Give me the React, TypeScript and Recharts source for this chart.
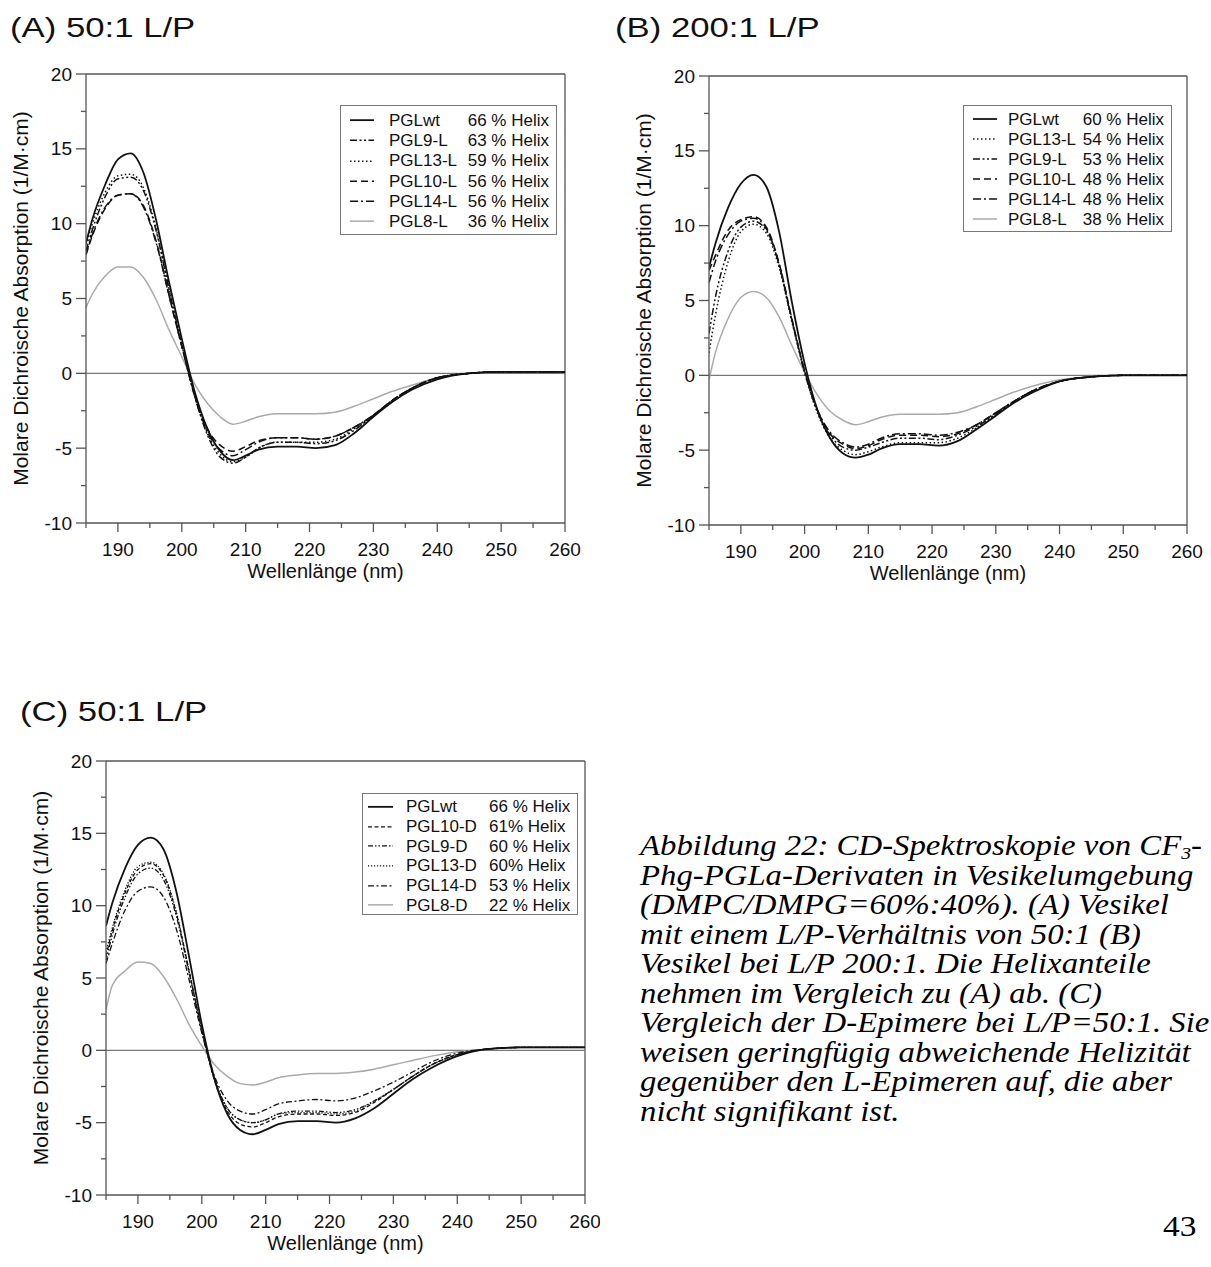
import React from "react";
import { LineChart, Line, XAxis, YAxis, ReferenceLine, Legend, Label } from "recharts";

// wavelength grid (nm) shared by all spectra
const WAVELENGTHS = [185, 186, 188, 190, 192, 194, 196, 198, 200, 202, 204, 206, 208, 210, 212, 215, 218, 221, 224, 227, 230, 233, 236, 240, 245, 250, 255, 260];

const X_TICKS = [185, 190, 195, 200, 205, 210, 215, 220, 225, 230, 235, 240, 245, 250, 255, 260];
const Y_TICKS = [-10, -7.5, -5, -2.5, 0, 2.5, 5, 7.5, 10, 12.5, 15, 17.5, 20];

// (A) 50:1 L/P
const A_WT = [8.7, 10.3, 12.6, 14.3, 14.7, 13.4, 10.2, 6.1, 2.3, -1.2, -3.7, -5.2, -5.8, -5.5, -5.1, -4.9, -4.9, -5.0, -4.8, -4.0, -2.9, -1.9, -1.1, -0.4, 0.0, 0.1, 0.1, 0.1];
const A_9 = [8.2, 9.6, 11.8, 13.0, 13.1, 12.2, 9.5, 5.6, 1.9, -1.5, -4.1, -5.6, -6.0, -5.6, -5.0, -4.6, -4.6, -4.7, -4.5, -3.8, -2.8, -1.8, -1.0, -0.3, 0.0, 0.1, 0.1, 0.1];
const A_13 = [8.6, 10.0, 12.1, 13.2, 13.3, 12.4, 9.6, 5.6, 1.9, -1.5, -4.0, -5.4, -5.9, -5.6, -5.0, -4.6, -4.6, -4.6, -4.4, -3.7, -2.8, -1.8, -1.0, -0.3, 0.0, 0.1, 0.1, 0.1];
const A_10 = [7.9, 9.2, 11.0, 11.9, 12.0, 11.2, 8.8, 5.2, 1.8, -1.4, -3.7, -4.8, -5.2, -4.9, -4.5, -4.3, -4.3, -4.4, -4.2, -3.6, -2.8, -1.8, -1.0, -0.3, 0.0, 0.1, 0.1, 0.1];
const A_14 = [8.0, 9.3, 11.1, 11.9, 12.0, 11.1, 8.7, 5.2, 1.8, -1.5, -3.9, -5.1, -5.5, -5.1, -4.6, -4.3, -4.3, -4.4, -4.2, -3.6, -2.8, -1.8, -1.0, -0.3, 0.0, 0.1, 0.1, 0.1];
const A_8 = [4.4, 5.3, 6.5, 7.1, 7.1, 6.4, 4.9, 2.9, 1.1, -0.7, -2.0, -2.9, -3.4, -3.2, -2.9, -2.7, -2.7, -2.7, -2.6, -2.2, -1.7, -1.2, -0.8, -0.3, 0.0, 0.1, 0.1, 0.1];

// (B) 200:1 L/P
const B_WT = [7.2, 8.8, 11.2, 12.8, 13.4, 12.6, 9.6, 4.9, 0.8, -2.3, -4.2, -5.2, -5.5, -5.3, -4.9, -4.6, -4.6, -4.7, -4.4, -3.6, -2.7, -1.8, -1.1, -0.4, -0.1, 0.0, 0.0, 0.0];
const B_13 = [1.5, 4.0, 7.6, 9.6, 10.1, 9.5, 7.2, 3.6, 0.2, -2.5, -4.2, -5.0, -5.3, -5.1, -4.8, -4.5, -4.5, -4.5, -4.2, -3.5, -2.6, -1.7, -1.0, -0.4, -0.1, 0.0, 0.0, 0.0];
const B_9 = [2.8, 5.2, 8.3, 9.9, 10.3, 9.7, 7.4, 3.7, 0.2, -2.4, -4.0, -4.8, -5.0, -4.8, -4.5, -4.2, -4.2, -4.3, -4.0, -3.4, -2.6, -1.7, -1.0, -0.4, -0.1, 0.0, 0.0, 0.0];
const B_10 = [7.0, 8.0, 9.7, 10.4, 10.6, 9.9, 7.5, 3.8, 0.3, -2.3, -3.9, -4.6, -4.9, -4.7, -4.3, -4.0, -4.0, -4.1, -3.9, -3.3, -2.5, -1.7, -1.0, -0.4, -0.1, 0.0, 0.0, 0.0];
const B_14 = [6.2, 7.6, 9.4, 10.3, 10.5, 9.8, 7.4, 3.7, 0.3, -2.3, -3.8, -4.5, -4.8, -4.6, -4.2, -3.9, -3.9, -4.0, -3.8, -3.3, -2.5, -1.7, -1.0, -0.4, -0.1, 0.0, 0.0, 0.0];
const B_8 = [-0.3, 1.5, 3.8, 5.2, 5.6, 5.2, 3.9, 2.0, 0.2, -1.3, -2.4, -3.0, -3.3, -3.1, -2.8, -2.6, -2.6, -2.6, -2.5, -2.1, -1.6, -1.1, -0.7, -0.3, -0.1, 0.0, 0.0, 0.0];

// (C) 50:1 L/P, D-epimers
const C_WT = [8.6, 10.2, 12.6, 14.2, 14.7, 13.9, 11.0, 6.5, 1.8, -2.0, -4.4, -5.5, -5.8, -5.5, -5.1, -4.9, -4.9, -5.0, -4.7, -4.0, -3.0, -2.0, -1.2, -0.4, 0.1, 0.2, 0.2, 0.2];
const C_10 = [6.5, 8.3, 10.9, 12.5, 12.9, 12.1, 9.5, 5.5, 1.4, -2.1, -4.2, -5.1, -5.3, -5.0, -4.6, -4.4, -4.4, -4.5, -4.3, -3.6, -2.7, -1.8, -1.0, -0.3, 0.1, 0.2, 0.2, 0.2];
const C_9 = [6.2, 8.0, 10.6, 12.2, 12.6, 11.8, 9.3, 5.4, 1.4, -2.0, -4.0, -4.8, -5.0, -4.8, -4.4, -4.2, -4.2, -4.3, -4.1, -3.5, -2.7, -1.8, -1.0, -0.3, 0.1, 0.2, 0.2, 0.2];
const C_13 = [6.8, 8.5, 11.1, 12.7, 13.0, 12.2, 9.6, 5.5, 1.4, -2.0, -4.0, -4.8, -5.0, -4.8, -4.4, -4.3, -4.3, -4.4, -4.2, -3.5, -2.7, -1.8, -1.0, -0.3, 0.1, 0.2, 0.2, 0.2];
const C_14 = [6.0, 7.4, 9.7, 11.0, 11.3, 10.6, 8.4, 4.9, 1.2, -1.8, -3.5, -4.2, -4.4, -4.1, -3.7, -3.5, -3.4, -3.5, -3.3, -2.8, -2.2, -1.5, -0.8, -0.2, 0.1, 0.2, 0.2, 0.2];
const C_8 = [2.8, 4.5, 5.5, 6.1, 6.0, 5.1, 3.6, 1.8, 0.3, -1.0, -1.8, -2.3, -2.4, -2.2, -1.9, -1.7, -1.6, -1.6, -1.5, -1.3, -1.0, -0.7, -0.4, -0.1, 0.1, 0.2, 0.2, 0.2];

const CAPTION_LINES = [
  "Phg-PGLa-Derivaten in Vesikelumgebung",
  "(DMPC/DMPG=60%:40%). (A) Vesikel",
  "mit einem L/P-Verhältnis von 50:1 (B)",
  "Vesikel bei L/P 200:1. Die Helixanteile",
  "nehmen im Vergleich zu (A) ab. (C)",
  "Vergleich der D-Epimere bei L/P=50:1. Sie",
  "weisen geringfügig abweichende Helizität",
  "gegenüber den L-Epimeren auf, die aber",
  "nicht signifikant ist.",
];

const FONT = '"Liberation Sans", Arial, Helvetica, sans-serif';
const SERIF = '"Liberation Serif", "Times New Roman", serif';
const AXIS = "#555";
const INK = "#111";
const GREY = "#aaa";

type Series = { key: string; name: string; helix: string; values: number[]; dash?: string; color: string; width: number };

const SERIES_A: Series[] = [
  { key: "wt", name: "PGLwt", helix: "66 % Helix", values: A_WT, color: INK, width: 1.8 },
  { key: "p9", name: "PGL9-L", helix: "63 % Helix", values: A_9, dash: "7 2.5 2 2.5 2 2.5", color: INK, width: 1.5 },
  { key: "p13", name: "PGL13-L", helix: "59 % Helix", values: A_13, dash: "1.5 2.5", color: INK, width: 1.5 },
  { key: "p10", name: "PGL10-L", helix: "56 % Helix", values: A_10, dash: "7 4", color: INK, width: 1.5 },
  { key: "p14", name: "PGL14-L", helix: "56 % Helix", values: A_14, dash: "8 3 2 3", color: INK, width: 1.5 },
  { key: "p8", name: "PGL8-L", helix: "36 % Helix", values: A_8, color: GREY, width: 1.5 },
];

const SERIES_B: Series[] = [
  { key: "wt", name: "PGLwt", helix: "60 % Helix", values: B_WT, color: INK, width: 1.8 },
  { key: "p13", name: "PGL13-L", helix: "54 % Helix", values: B_13, dash: "1.5 2.5", color: INK, width: 1.5 },
  { key: "p9", name: "PGL9-L", helix: "53 % Helix", values: B_9, dash: "7 2.5 2 2.5 2 2.5", color: INK, width: 1.5 },
  { key: "p10", name: "PGL10-L", helix: "48 % Helix", values: B_10, dash: "7 4", color: INK, width: 1.5 },
  { key: "p14", name: "PGL14-L", helix: "48 % Helix", values: B_14, dash: "8 3 2 3", color: INK, width: 1.5 },
  { key: "p8", name: "PGL8-L", helix: "38 % Helix", values: B_8, color: GREY, width: 1.5 },
];

const SERIES_C: Series[] = [
  { key: "wt", name: "PGLwt", helix: "66 % Helix", values: C_WT, color: INK, width: 1.8 },
  { key: "p10", name: "PGL10-D", helix: "61% Helix", values: C_10, dash: "4 2.5", color: INK, width: 1.3 },
  { key: "p9", name: "PGL9-D", helix: "60 % Helix", values: C_9, dash: "5 2 1.5 2 1.5 2", color: INK, width: 1.3 },
  { key: "p13", name: "PGL13-D", helix: "60% Helix", values: C_13, dash: "1.2 1.8", color: INK, width: 1.3 },
  { key: "p14", name: "PGL14-D", helix: "53 % Helix", values: C_14, dash: "6 2.5 2 2.5", color: INK, width: 1.3 },
  { key: "p8", name: "PGL8-D", helix: "22 % Helix", values: C_8, color: GREY, width: 1.5 },
];

const XTick = (props: any) => {
  const { x, y, payload } = props;
  const major = payload.value % 10 === 0;
  return (
    <g>
      <line x1={x} x2={x} y1={y} y2={y + (major ? 9 : 5)} stroke={AXIS} strokeWidth={1.3} />
      {major && (
        <text x={x} y={y + 26} textAnchor="middle" dominantBaseline="central" fontSize={19} fontFamily={FONT} fill={INK}>
          {payload.value}
        </text>
      )}
    </g>
  );
};

const YTick = (props: any) => {
  const { x, y, payload } = props;
  const major = payload.value % 5 === 0;
  return (
    <g>
      <line x1={x} x2={x - (major ? 10 : 5)} y1={y} y2={y} stroke={AXIS} strokeWidth={1.3} />
      {major && (
        <text x={x - 14} y={y} textAnchor="end" dominantBaseline="central" fontSize={19} fontFamily={FONT} fill={INK}>
          {payload.value}
        </text>
      )}
    </g>
  );
};

type LegendCfg = { x: number; y: number; w: number; h: number; rowH: number; padTop: number; lineX: number; lineW: number; nameX: number; helixX?: number };

const LegendBox = ({ series, cfg }: { series: Series[]; cfg: LegendCfg }) => (
  <div
    style={{
      width: cfg.w,
      height: cfg.h,
      boxSizing: "border-box",
      border: "1.5px solid #777",
      background: "#fff",
      paddingTop: cfg.padTop,
      fontFamily: FONT,
      fontSize: 17,
      color: INK,
      lineHeight: 1,
    }}
  >
    {series.map((s) => (
      <div key={s.key} style={{ position: "relative", height: cfg.rowH }}>
        <svg width={cfg.lineW} height={cfg.rowH} style={{ position: "absolute", left: cfg.lineX, top: 0 }}>
          <line x1={0} x2={cfg.lineW} y1={cfg.rowH / 2} y2={cfg.rowH / 2} stroke={s.color} strokeWidth={s.width} strokeDasharray={s.dash} />
        </svg>
        <span style={{ position: "absolute", left: cfg.nameX, top: (cfg.rowH - 17) / 2, whiteSpace: "nowrap" }}>{s.name}</span>
        <span
          style={
            cfg.helixX !== undefined
              ? { position: "absolute", left: cfg.helixX, top: (cfg.rowH - 17) / 2, whiteSpace: "nowrap" }
              : { position: "absolute", right: 7, top: (cfg.rowH - 17) / 2, whiteSpace: "nowrap" }
          }
        >
          {s.helix}
        </span>
      </div>
    ))}
  </div>
);

type PanelProps = {
  series: Series[];
  left: number;
  top: number;
  width: number;
  height: number;
  plot: { x0: number; x1: number; y0: number; y1: number };
  legend: LegendCfg;
};

const Y_AXIS_W = 70;
const X_AXIS_H = 50;

function SpectrumPanel({ series, left, top, width, height, plot, legend }: PanelProps) {
  const data = WAVELENGTHS.map((wl, i) => {
    const row: Record<string, number> = { wl };
    series.forEach((s) => {
      row[s.key] = s.values[i];
    });
    return row;
  });
  const margin = {
    left: plot.x0 - left - Y_AXIS_W,
    top: plot.y0 - top,
    right: left + width - plot.x1,
    bottom: top + height - plot.y1 - X_AXIS_H,
  };
  const midY = (plot.y0 + plot.y1) / 2 - top;
  const midX = (plot.x0 + plot.x1) / 2 - left;
  const titleX = plot.x0 - left - 66;

  return (
    <div style={{ position: "absolute", left, top }}>
      <LineChart width={width} height={height} data={data} margin={margin} style={{ overflow: "visible" }}>
        <XAxis
          dataKey="wl"
          type="number"
          domain={[185, 260]}
          ticks={X_TICKS}
          interval={0}
          allowDataOverflow
          stroke={AXIS}
          strokeWidth={1.3}
          tickLine={false}
          tickSize={0}
          tickMargin={0}
          height={X_AXIS_H}
          tick={<XTick />}
        >
          <Label
            content={() => (
              <text x={midX} y={plot.y1 - top + 48} textAnchor="middle" dominantBaseline="central" fontSize={20} fontFamily={FONT} fill={INK}>
                Wellenlänge (nm)
              </text>
            )}
          />
        </XAxis>
        <YAxis
          type="number"
          domain={[-10, 20]}
          ticks={Y_TICKS}
          interval={0}
          allowDataOverflow
          stroke={AXIS}
          strokeWidth={1.3}
          tickLine={false}
          tickSize={0}
          tickMargin={0}
          width={Y_AXIS_W}
          tick={<YTick />}
        >
          <Label
            content={() => (
              <text
                x={titleX}
                y={midY}
                transform={`rotate(-90 ${titleX} ${midY})`}
                textAnchor="middle"
                dominantBaseline="central"
                fontSize={21}
                fontFamily={FONT}
                fill={INK}
              >
                Molare Dichroische Absorption (1/M·cm)
              </text>
            )}
          />
        </YAxis>
        <ReferenceLine y={20} stroke={AXIS} strokeWidth={1.3} />
        <ReferenceLine x={260} stroke={AXIS} strokeWidth={1.3} />
        <ReferenceLine y={0} stroke="#777" strokeWidth={1.3} />
        {[...series].reverse().map((s) => (
          <Line
            key={s.key}
            dataKey={s.key}
            type="monotone"
            stroke={s.color}
            strokeWidth={s.width}
            strokeDasharray={s.dash}
            dot={false}
            activeDot={false}
            isAnimationActive={false}
          />
        ))}
        <Legend
          layout="vertical"
          align="center"
          verticalAlign="middle"
          wrapperStyle={{ left: legend.x - left, top: legend.y - top, width: legend.w, height: legend.h }}
          content={() => <LegendBox series={series} cfg={legend} />}
        />
      </LineChart>
    </div>
  );
}

const titleStyle: React.CSSProperties = {
  position: "absolute",
  fontFamily: FONT,
  fontSize: 28,
  color: INK,
  lineHeight: 1,
  whiteSpace: "nowrap",
  transform: "scaleX(1.24)",
  transformOrigin: "left center",
};

export default function App() {
  return (
    <div style={{ position: "absolute", left: 0, top: 0, width: 1211, height: 1267, background: "#fff", overflow: "hidden" }}>
      <div style={{ ...titleStyle, left: 10, top: 14 }}>(A) 50:1 L/P</div>
      <div style={{ ...titleStyle, left: 615, top: 14 }}>(B) 200:1 L/P</div>
      <div style={{ ...titleStyle, left: 20, top: 698 }}>(C) 50:1 L/P</div>

      <SpectrumPanel
        series={SERIES_A}
        left={0}
        top={40}
        width={600}
        height={570}
        plot={{ x0: 86, x1: 565, y0: 74, y1: 523 }}
        legend={{ x: 340, y: 105, w: 217, h: 130, rowH: 20.3, padTop: 4, lineX: 9, lineW: 24, nameX: 48 }}
      />
      <SpectrumPanel
        series={SERIES_B}
        left={600}
        top={40}
        width={611}
        height={570}
        plot={{ x0: 709, x1: 1187, y0: 76, y1: 525 }}
        legend={{ x: 963, y: 105, w: 209, h: 127, rowH: 20, padTop: 3, lineX: 9, lineW: 24, nameX: 44 }}
      />
      <SpectrumPanel
        series={SERIES_C}
        left={0}
        top={730}
        width={600}
        height={537}
        plot={{ x0: 106, x1: 585, y0: 761, y1: 1195 }}
        legend={{ x: 362, y: 793, w: 216, h: 122, rowH: 19.7, padTop: 3, lineX: 5, lineW: 25, nameX: 43, helixX: 126 }}
      />

      <div
        style={{
          position: "absolute",
          left: 640,
          top: 831,
          fontFamily: SERIF,
          fontStyle: "italic",
          fontSize: 29,
          lineHeight: "29.5px",
          color: "#000",
          whiteSpace: "nowrap",
          transform: "scaleX(1.13)",
          transformOrigin: "left top",
        }}
      >
        <div style={{ height: 29.5 }}>
          Abbildung 22: CD-Spektroskopie von CF
          <span style={{ fontSize: "0.6em", lineHeight: 0, position: "relative", top: 4 }}>3</span>-
        </div>
        {CAPTION_LINES.map((line) => (
          <div key={line}>{line}</div>
        ))}
      </div>
      <div
        style={{
          position: "absolute",
          left: 1163,
          top: 1212,
          fontFamily: SERIF,
          fontSize: 29,
          lineHeight: 1,
          color: "#000",
          transform: "scaleX(1.15)",
          transformOrigin: "left top",
        }}
      >
        43
      </div>
    </div>
  );
}
